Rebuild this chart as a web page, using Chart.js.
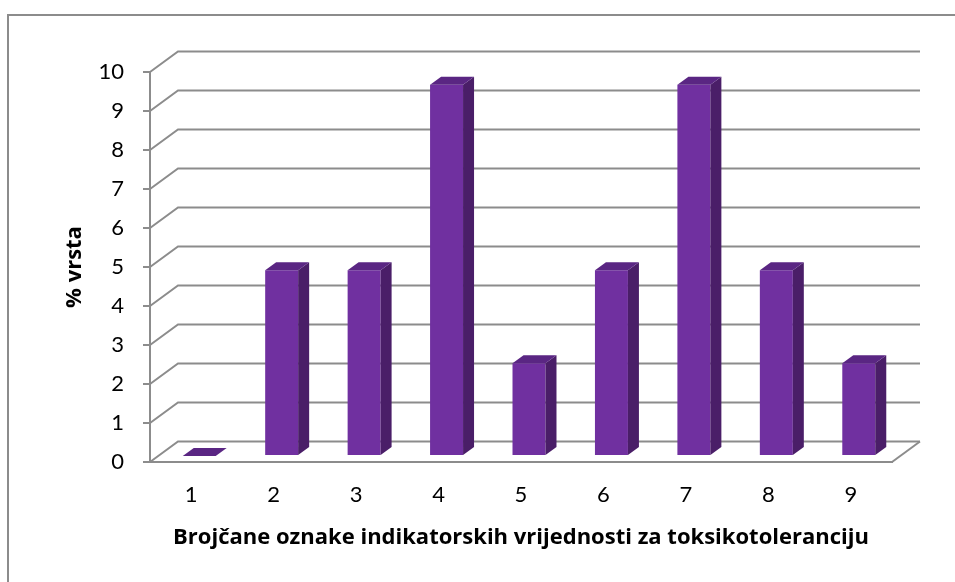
<!DOCTYPE html>
<html>
<head>
<meta charset="utf-8">
<title>% vrsta</title>
<script src="https://cdn.jsdelivr.net/npm/chart.js@4.4.1/dist/chart.umd.min.js"></script>
<style>
    html, body { margin: 0; padding: 0; background: #fff; }
    #okvir { position: relative; width: 955px; height: 582px; overflow: hidden; }
    #rub { position: absolute; left: 7px; top: 14px; width: 960px; height: 600px;
           border-top: 2px solid #8c8c8c; border-left: 2px solid #8c8c8c; }
    canvas { position: absolute; left: 0; top: 0; }
</style>
</head>
<body>
<div id="okvir">
    <div id="rub"></div>
    <canvas id="grafikon" width="955" height="582"></canvas>
</div>
<script>
// PODACI
const kategorije = ['1', '2', '3', '4', '5', '6', '7', '8', '9'];
const postotakVrsta = [0, 4.76, 4.76, 9.52, 2.38, 4.76, 9.52, 4.76, 2.38];
const yMin = 0;
const yMax = 10;
const yKorak = 1;

const naslovX = 'Brojčane oznake indikatorskih vrijednosti za toksikotoleranciju';
const naslovY = '% vrsta';

// izgled "3D" prostora
const zid = { dx: 28, dy: -20.5 };     // pomak stražnjeg zida
const stupac = { dx: 8, dy: -6 };      // pomak prednje strane stupca
const dubina = { dx: 11, dy: -8 };     // dubina stupca
const sivaLinija = '#8c8c8c';
const bojaPrednja = '#7030a0';
const bojaBok = '#4a1e68';
const bojaVrh = '#5a2683';
const fontBrojevi = 'Lato, "Open Sans", sans-serif';
const fontNaslovi = '"Open Sans", Lato, sans-serif';

// plugin koji crta zidove i bokove stupaca
const prostor3d = {
    id: 'prostor3d',
    beforeDatasetsDraw(chart) {
        const { ctx, chartArea, scales } = chart;
        const y = scales.y;
        ctx.save();
        ctx.strokeStyle = sivaLinija;
        ctx.lineWidth = 2;
        y.ticks.forEach(t => {
            const py = y.getPixelForValue(t.value);
            ctx.beginPath();
            ctx.moveTo(chartArea.left, py);
            ctx.lineTo(chartArea.left + zid.dx, py + zid.dy);
            ctx.lineTo(chartArea.right + zid.dx, py + zid.dy);
            ctx.stroke();
        });
        // desni rub poda
        ctx.beginPath();
        ctx.moveTo(chartArea.right, chartArea.bottom);
        ctx.lineTo(chartArea.right + zid.dx, chartArea.bottom + zid.dy);
        ctx.stroke();
        ctx.restore();

        // prednje strane stupaca crta Chart.js, samo pomaknute u dubinu
        ctx.save();
        ctx.translate(stupac.dx, stupac.dy);
    },
    afterDatasetsDraw(chart) {
        const ctx = chart.ctx;
        chart.getDatasetMeta(0).data.forEach(bar => {
            const { x, y, base, width } = bar.getProps(['x', 'y', 'base', 'width'], true);
            const l = x - width / 2;
            const r = x + width / 2;

            ctx.fillStyle = bojaBok;
            ctx.beginPath();
            ctx.moveTo(r, y);
            ctx.lineTo(r + dubina.dx, y + dubina.dy);
            ctx.lineTo(r + dubina.dx, base + dubina.dy);
            ctx.lineTo(r, base);
            ctx.closePath();
            ctx.fill();

            ctx.fillStyle = bojaVrh;
            ctx.beginPath();
            ctx.moveTo(l, y);
            ctx.lineTo(l + dubina.dx, y + dubina.dy);
            ctx.lineTo(r + dubina.dx, y + dubina.dy);
            ctx.lineTo(r, y);
            ctx.closePath();
            ctx.fill();
        });
        ctx.restore();
    }
};

const ctx = document.getElementById('grafikon').getContext('2d');
new Chart(ctx, {
    type: 'bar',
    data: {
        labels: kategorije,
        datasets: [{
            label: naslovY,
            data: postotakVrsta,
            backgroundColor: bojaPrednja,
            borderWidth: 0,
            barPercentage: 0.4,
            categoryPercentage: 1
        }]
    },
    options: {
        responsive: false,
        animation: false,
        layout: {
            padding: { left: 0, top: 72, right: 63, bottom: 0 }
        },
        plugins: {
            legend: { display: false },
            tooltip: { enabled: false }
        },
        scales: {
            x: {
                grid: { display: false, drawTicks: false },
                border: { display: true, color: sivaLinija, width: 2 },
                ticks: {
                    color: '#000',
                    padding: 20,
                    font: { family: fontBrojevi, size: 22 }
                },
                title: {
                    display: true,
                    text: naslovX,
                    color: '#000',
                    font: { family: fontNaslovi, size: 22, weight: 'bold' },
                    padding: { top: 0, bottom: 31 }
                },
                afterFit(scale) { scale.height = 120; }
            },
            y: {
                min: yMin,
                max: yMax,
                grid: {
                    drawOnChartArea: false,
                    drawTicks: true,
                    tickLength: 7,
                    color: sivaLinija,
                    lineWidth: 2
                },
                border: { display: true, color: sivaLinija, width: 2 },
                ticks: {
                    stepSize: yKorak,
                    color: '#000',
                    padding: 19,
                    font: { family: fontBrojevi, size: 22 }
                },
                title: {
                    display: true,
                    text: naslovY,
                    color: '#000',
                    font: { family: fontNaslovi, size: 22, weight: 'bold' },
                    padding: { top: 62, bottom: 0 }
                },
                afterFit(scale) { scale.width = 150; }
            }
        }
    },
    plugins: [prostor3d]
});
</script>
</body>
</html>
